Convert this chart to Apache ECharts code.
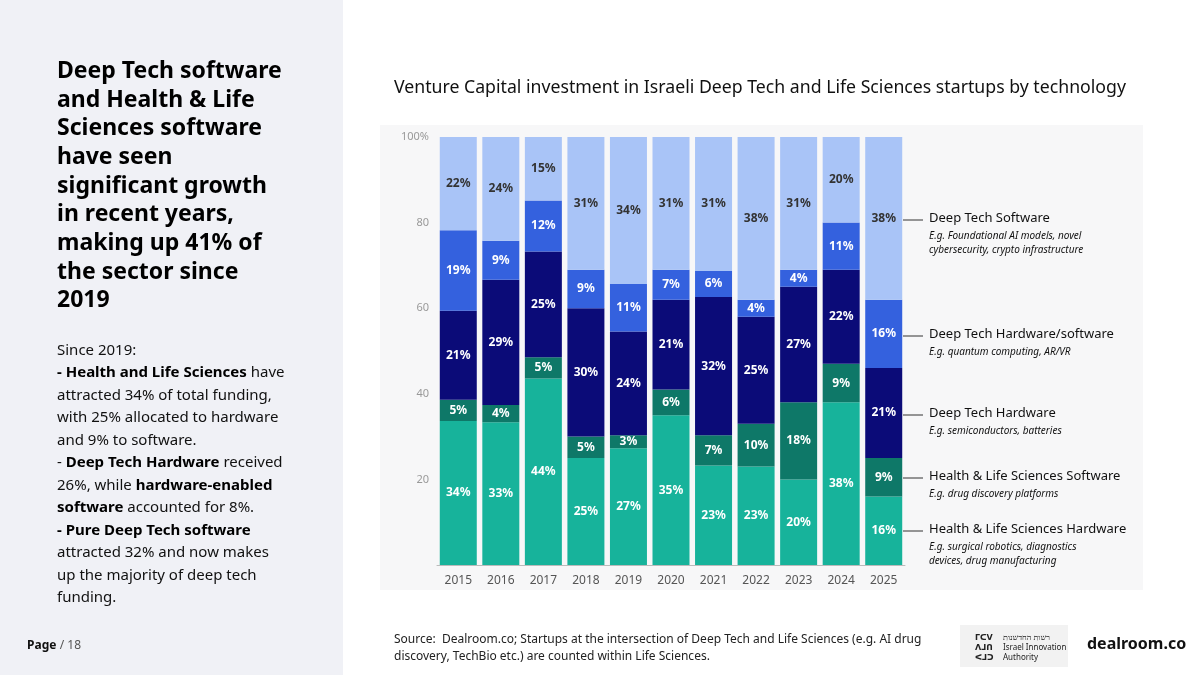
<!DOCTYPE html>
<html><head><meta charset="utf-8">
<script src="https://cdn.jsdelivr.net/npm/echarts@6/dist/echarts.min.js"></script>
<style>html,body{margin:0;padding:0;background:#fff}#c{width:1200px;height:675px}</style>
</head><body><div id="c"></div>
<script>
const years=['2015','2016','2017','2018','2019','2020','2021','2022','2023','2024','2025'];
const hlsHardware=[34,33,44,25,27,35,23,23,20,38,16];
const hlsSoftware=[5,4,5,5,3,6,7,10,18,9,9];
const dtHardware=[21,29,25,30,24,21,32,25,27,22,21];
const dtHwSw=[19,9,12,9,11,7,6,4,4,11,16];
const dtSoftware=[22,24,15,31,34,31,31,38,31,20,38];
const yTicks=['','20','40','60','80','100%'];

const raw=[hlsHardware,hlsSoftware,dtHardware,dtHwSw,dtSoftware];
const names=['Health & Life Sciences Hardware','Health & Life Sciences Software','Deep Tech Hardware','Deep Tech Hardware/software','Deep Tech Software'];
const colors=['#17b39b','#0e7868','#0b0b78','#3461de','#a9c4f7'];
const totals=years.map((y,i)=>raw.reduce((s,a)=>s+a[i],0));
const series=raw.map((arr,k)=>({
  name:names[k],type:'bar',stack:'a',barWidth:37,
  itemStyle:{color:colors[k]},
  data:arr.map((v,i)=>({value:v*100/totals[i],raw:v})),
  label:{show:true,position:'inside',
    formatter:p=>p.data.raw+'%',color:k===4?'#333':'#fff',fontWeight:'bold',fontSize:12,fontFamily:'Noto Sans'}
}));
const chart=echarts.init(document.getElementById('c'));
const ann=[
 [920,220,'Deep Tech Software','E.g. Foundational AI models, novel\ncybersecurity, crypto infrastructure'],
 [920,336,'Deep Tech Hardware/software','E.g. quantum computing, AR/VR'],
 [920,415,'Deep Tech Hardware','E.g. semiconductors, batteries'],
 [920,478,'Health & Life Sciences Software','E.g. drug discovery platforms'],
 [920,531,'Health & Life Sciences Hardware','E.g. surgical robotics, diagnostics\ndevices, drug manufacturing']
];
const g=[
 {type:'rect',shape:{x:0,y:0,width:343,height:675},style:{fill:'#f0f1f6'},z:-10},
 {type:'rect',shape:{x:380,y:125,width:763,height:465},style:{fill:'#f7f7f8'},z:-10},
 {type:'text',left:57,top:57,style:{text:'Deep Tech software\nand Health & Life\nSciences software\nhave seen\nsignificant growth\nin recent years,\nmaking up 41% of\nthe sector since\n2019',font:'bold 23px "Noto Sans"',fill:'#000',lineHeight:28.7}},
 {type:'text',left:57,top:343,style:{text:'{n|Since 2019:}\n{b|- Health and Life Sciences}{n| have}\n{n|attracted 34% of total funding,}\n{n|with 25% allocated to hardware}\n{n|and 9% to software.}\n{n|- }{b|Deep Tech Hardware}{n| received}\n{n|26%, while }{b|hardware-enabled}\n{b|software}{n| accounted for 8%.}\n{b|- Pure Deep Tech software}\n{n|attracted 32% and now makes}\n{n|up the majority of deep tech}\n{n|funding.}',
   rich:{n:{font:'15px "Noto Sans"',fill:'#111',lineHeight:22.5},b:{font:'bold 15px "Noto Sans"',fill:'#000',lineHeight:22.5}}}},
 {type:'text',left:27,top:640,style:{text:'{b|Page} {n|/ 18}',rich:{b:{font:'bold 12px "Noto Sans"',fill:'#111'},n:{font:'12px "Noto Sans"',fill:'#555'}}}},
 {type:'text',left:394,top:79,style:{text:'Venture Capital investment in Israeli Deep Tech and Life Sciences startups by technology',font:'17.7px "Noto Sans"',fill:'#111'}},
 {type:'text',left:394,top:631,style:{text:'Source:  Dealroom.co; Startups at the intersection of Deep Tech and Life Sciences (e.g. AI drug\ndiscovery, TechBio etc.) are counted within Life Sciences.',font:'12px "Noto Sans"',fill:'#222',lineHeight:17}},
 {type:'rect',shape:{x:960,y:625,width:108,height:42},style:{fill:'#f2f2f2'}},
 {type:'text',left:1003,top:633,style:{text:'רשות החדשנות\nIsrael Innovation\nAuthority',font:'8px "Noto Sans"',fill:'#222',lineHeight:10}},
 {type:'text',left:975,top:633,style:{text:'ᒥᑕᐯ\nᐱᒧᑎ\nᐸᒧᑐ',font:'bold 8px "DejaVu Sans"',fill:'#222',lineHeight:10}},
 {type:'text',left:1087,top:636,style:{text:'dealroom.co',font:'bold 16px "Noto Sans"',fill:'#111'}}
];
ann.forEach(a=>{
  g.push({type:'line',shape:{x1:903,y1:a[1],x2:923,y2:a[1]},style:{stroke:'#333',lineWidth:1}});
  g.push({type:'text',left:a[0]+9,top:a[1]-8,style:{text:a[2],font:'13px "Noto Sans"',fill:'#111'}});
  g.push({type:'text',left:a[0]+9,top:a[1]+9,style:{text:a[3],font:'italic 10px "Noto Sans"',fill:'#111',lineHeight:14}});
});
chart.setOption({
  animation:false,
  grid:{left:437,right:295,top:137,bottom:110},
  xAxis:{type:'category',data:years,axisTick:{show:false},axisLine:{lineStyle:{color:'#bbb'}},
    axisLabel:{color:'#555',fontSize:12,fontFamily:'Noto Sans',margin:10}},
  yAxis:{type:'value',min:0,max:100,interval:20,splitLine:{show:false},
    axisLabel:{color:'#999',fontSize:11,fontFamily:'Noto Sans',formatter:(v)=>yTicks[v/20]}},
  series:series,
  graphic:g
});
</script></body></html>
